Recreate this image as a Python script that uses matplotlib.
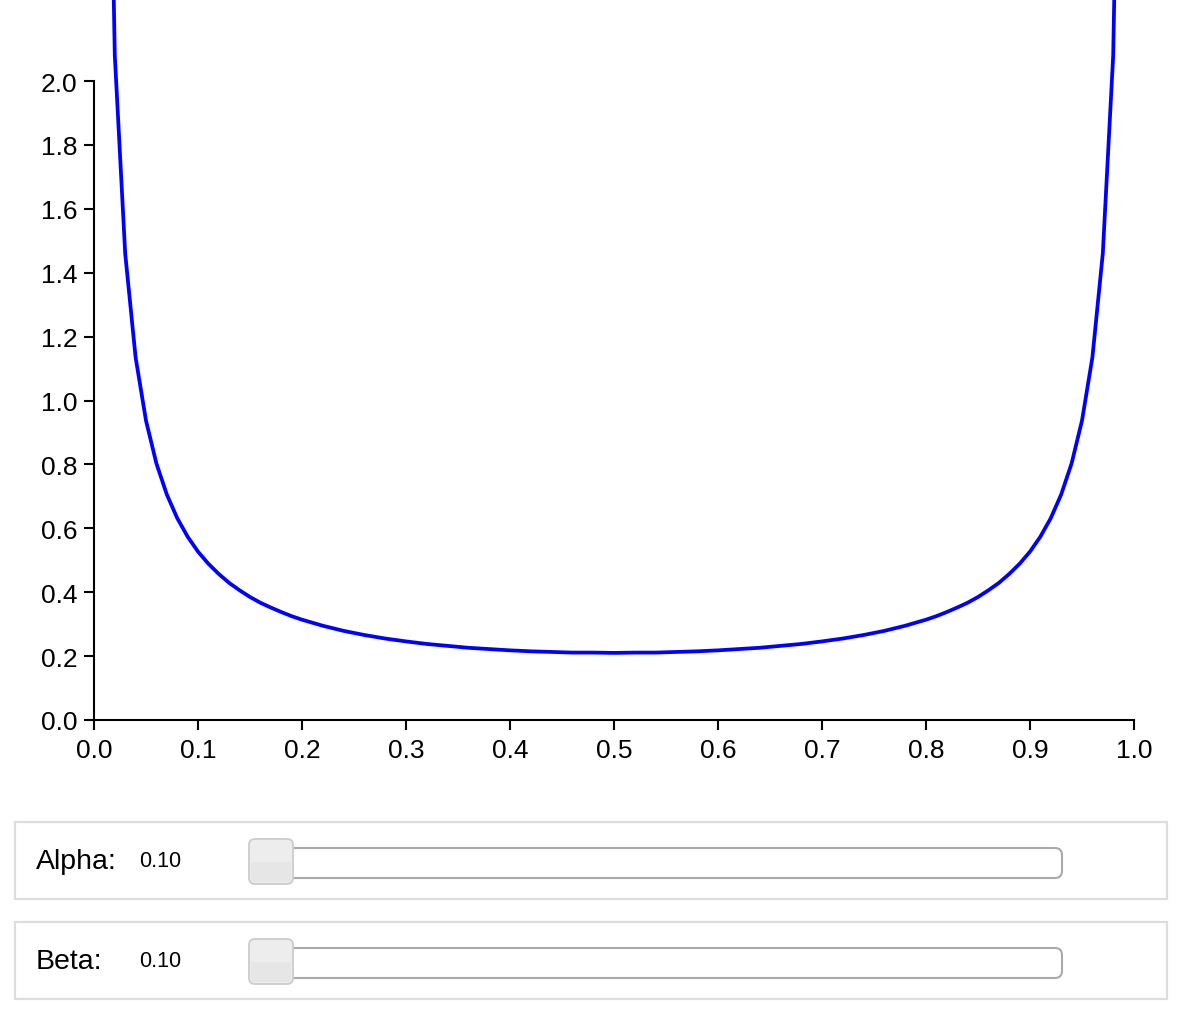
import matplotlib.pyplot as plt
from matplotlib.patches import FancyBboxPatch, Rectangle

plt.rcParams['font.family'] = ['Liberation Sans', 'DejaVu Sans']

# density curve (Beta pdf, alpha = beta = 0.10)
x = [0.01, 0.02, 0.03, 0.04, 0.05, 0.06, 0.07, 0.08, 0.09, 0.10,
     0.11, 0.12, 0.13, 0.14, 0.15, 0.16, 0.17, 0.18, 0.19, 0.20,
     0.22, 0.24, 0.26, 0.28, 0.30, 0.32, 0.34, 0.36, 0.38, 0.40,
     0.42, 0.44, 0.46, 0.48, 0.50, 0.52, 0.54, 0.56, 0.58, 0.60,
     0.62, 0.64, 0.66, 0.68, 0.70, 0.72, 0.74, 0.76, 0.78, 0.80,
     0.81, 0.82, 0.83, 0.84, 0.85, 0.86, 0.87, 0.88, 0.89, 0.90,
     0.91, 0.92, 0.93, 0.94, 0.95, 0.96, 0.97, 0.98, 0.99]
density = [3.85, 2.08, 1.46, 1.135, 0.937, 0.803, 0.706, 0.632, 0.574, 0.527,
           0.489, 0.457, 0.429, 0.406, 0.385, 0.367, 0.352, 0.338, 0.325, 0.314,
           0.295, 0.279, 0.266, 0.255, 0.246, 0.238, 0.232, 0.226, 0.222, 0.218,
           0.215, 0.213, 0.211, 0.211, 0.210, 0.211, 0.211, 0.213, 0.215, 0.218,
           0.222, 0.226, 0.232, 0.238, 0.246, 0.255, 0.266, 0.279, 0.295, 0.314,
           0.325, 0.338, 0.352, 0.367, 0.385, 0.406, 0.429, 0.457, 0.489, 0.527,
           0.574, 0.632, 0.706, 0.803, 0.937, 1.135, 1.46, 2.08, 3.85]

x_ticks = [0.0, 0.1, 0.2, 0.3, 0.4, 0.5, 0.6, 0.7, 0.8, 0.9, 1.0]
y_ticks = [0.0, 0.2, 0.4, 0.6, 0.8, 1.0, 1.2, 1.4, 1.6, 1.8, 2.0]

slider_names = ["Alpha:", "Beta:"]
slider_values = [0.10, 0.10]

W, H = 1188, 1012
fig = plt.figure(figsize=(W / 100, H / 100), dpi=100)

# main chart area in pixels: left 94, right 1134, top 0, bottom 721
ax = fig.add_axes([94 / W, (H - 721) / H, 1040 / W, 721 / H])
ax.plot(x, density, color="#0000ff", lw=2.7, clip_on=True)
ax.set_xlim(0, 1)
ax.set_ylim(0, 2.0 * 721 / (721 - 82))
ax.set_xticks(x_ticks)
ax.set_yticks(y_ticks)
ax.set_xticklabels([f"{t:.1f}" for t in x_ticks])
ax.set_yticklabels([f"{t:.1f}" for t in y_ticks])
for s in ["top", "right"]:
    ax.spines[s].set_visible(False)
ax.spines["left"].set_bounds(0, 2.0)
ax.spines["left"].set_linewidth(1.5)
ax.spines["bottom"].set_linewidth(1.5)
ax.tick_params(length=7, width=1.5, labelsize=19)
ax.tick_params(axis="x", pad=6)
ax.tick_params(axis="y", pad=5)

# slider panels drawn in pixel space
ov = fig.add_axes([0, 0, 1, 1])
ov.set_xlim(0, W)
ov.set_ylim(H, 0)
ov.axis("off")

for i, (name, val) in enumerate(zip(slider_names, slider_values)):
    top = 823 + i * 100
    ov.add_patch(Rectangle((15, top), 1152, 77, fill=False, ec="#dddddd", lw=1.6))
    cy = top + 39
    ov.text(36, cy, name, fontsize=20.5, va="center", ha="left")
    ov.text(139, cy, f"{val:.2f}", fontsize=15.5, va="center", ha="left")
    ov.add_patch(FancyBboxPatch((250, top + 26), 812, 30,
                                boxstyle="round,pad=0,rounding_size=7",
                                fc="white", ec="#aaaaaa", lw=1.5))
    ov.add_patch(FancyBboxPatch((249, top + 17), 44, 45,
                                boxstyle="round,pad=0,rounding_size=6",
                                fc="#ededed", ec="#cccccc", lw=1.3))
    ov.add_patch(Rectangle((251, top + 40), 40, 20, fc="#e6e6e6", ec="none"))

fig.savefig("out.png", dpi=100)
